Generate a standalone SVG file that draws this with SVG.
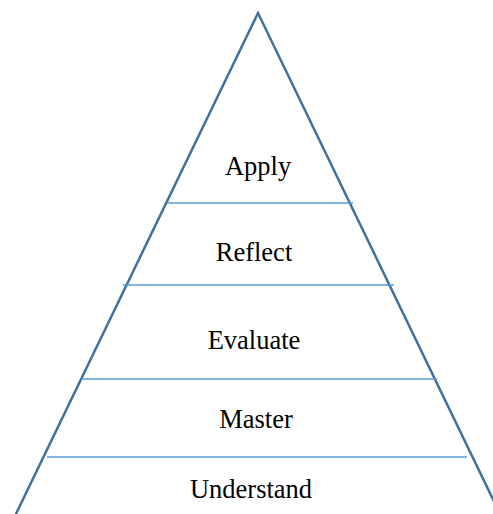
<svg xmlns="http://www.w3.org/2000/svg" width="493" height="514" viewBox="0 0 493 514">
<style>
.edge{fill:none;stroke:#41719c;stroke-width:2.5;stroke-linejoin:miter}
.div{stroke:#5b9bd5;stroke-width:1.4}
.lbl{font-size:26.5px;fill:#000;text-anchor:middle}
</style>
<rect width="493" height="514" fill="#fff"/>
<g id="triangle">
<path class="edge" d="M 14 518 L 258 13 L 502 518"/>
</g>
<g id="connectors">
<line class="div" x1="167" y1="203" x2="353" y2="203"/>
<line class="div" x1="123" y1="285" x2="394" y2="285"/>
<line class="div" x1="81" y1="379" x2="437" y2="379"/>
<line class="div" x1="47" y1="457" x2="467" y2="457"/>
</g>
<g id="labels" font-family="Liberation Serif, Times New Roman, serif">
<g id="apply"><text class="lbl" x="258" y="175">Apply</text></g>
<g id="reflect"><text class="lbl" x="254" y="261">Reflect</text></g>
<g id="evaluate"><text class="lbl" x="254" y="349">Evaluate</text></g>
<g id="master"><text class="lbl" x="256" y="428">Master</text></g>
<g id="understand"><text class="lbl" x="251" y="498">Understand</text></g>
</g>
</svg>
